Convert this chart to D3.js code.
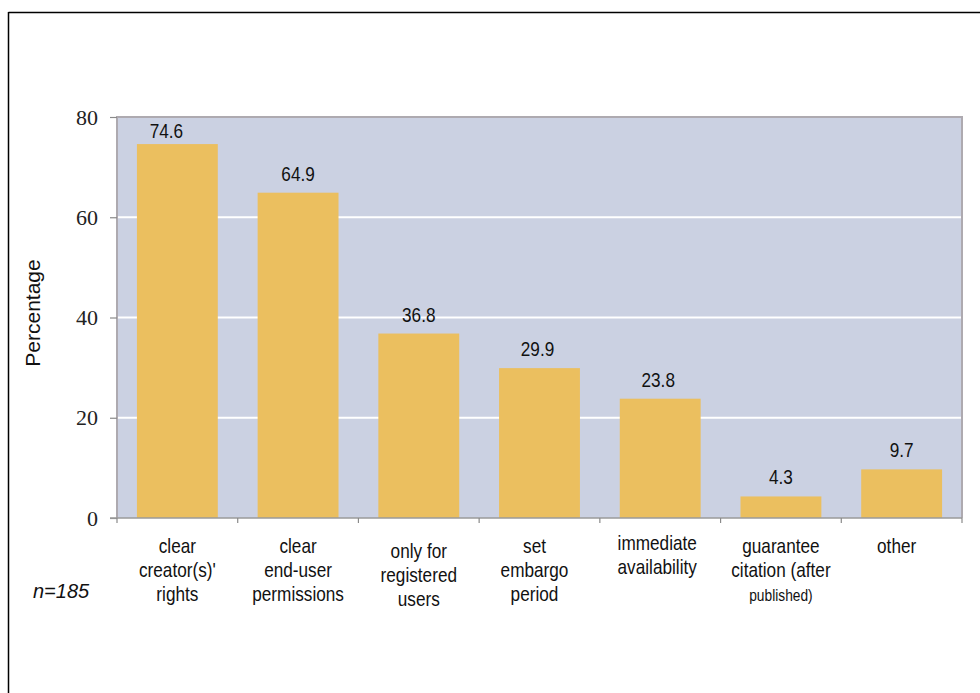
<!DOCTYPE html>
<html>
<head>
<meta charset="utf-8">
<script src="https://cdn.jsdelivr.net/npm/d3@7"></script>
<style>
  html, body { margin: 0; padding: 0; background: #fff; }
  svg { display: block; }
  .sans { font-family: "Liberation Sans", Arial, sans-serif; }
  .serif { font-family: "Liberation Serif", "DejaVu Serif", "Times New Roman", serif; }
</style>
</head>
<body>
<svg id="chart" width="980" height="693"></svg>
<script>
// Categories (each entry is the label split into its text lines)
const categories = [
  ["clear", "creator(s)'", "rights"],
  ["clear", "end-user", "permissions"],
  ["only for", "registered", "users"],
  ["set", "embargo", "period"],
  ["immediate", "availability"],
  ["guarantee", "citation (after", "published)"],
  ["other"]
];
const values = [74.6, 64.9, 36.8, 29.9, 23.8, 4.3, 9.7];
const yTicks = [0, 20, 40, 60, 80];
const yTitle = "Percentage";
const note = "n=185";

const svg = d3.select("#chart");
const W = 980, H = 693;
const plot = { left: 117, right: 962, top: 117, bottom: 518 };
const narrow = 0.86; // horizontal squeeze for the condensed label face

// Outer frame (top and left edges visible)
svg.append("line").attr("x1", 8.5).attr("x2", W).attr("y1", 12.5).attr("y2", 12.5)
  .attr("stroke", "#000").attr("stroke-width", 1.5);
svg.append("line").attr("x1", 8.5).attr("x2", 8.5).attr("y1", 12).attr("y2", H)
  .attr("stroke", "#000").attr("stroke-width", 1.5);

const keys = categories.map((c, i) => i);
const x = d3.scaleBand().domain(keys).range([plot.left, plot.right]).paddingInner(0.33).paddingOuter(0.165);
const xb = d3.scaleBand().domain(keys).range([plot.left, plot.right]).padding(0);
const y = d3.scaleLinear().domain([0, 80]).range([plot.bottom, plot.top]);

// Plot background
svg.append("rect")
  .attr("x", plot.left).attr("y", plot.top)
  .attr("width", plot.right - plot.left).attr("height", plot.bottom - plot.top)
  .attr("fill", "#cbd1e2");

// Horizontal gridlines
svg.append("g").selectAll("line")
  .data(yTicks.filter(t => t > 0 && t < 80))
  .join("line")
  .attr("x1", plot.left).attr("x2", plot.right)
  .attr("y1", d => y(d)).attr("y2", d => y(d))
  .attr("stroke", "#fff").attr("stroke-width", 2);

// Plot border (left, top, right)
svg.append("path")
  .attr("d", `M${plot.left},${plot.bottom}V${plot.top}H${plot.right}V${plot.bottom}`)
  .attr("fill", "none").attr("stroke", "#aeaab0").attr("stroke-width", 2);

// Bars
svg.append("g").selectAll("rect")
  .data(values)
  .join("rect")
  .attr("x", (d, i) => x(i))
  .attr("y", d => y(d))
  .attr("width", x.bandwidth())
  .attr("height", d => y(0) - y(d))
  .attr("fill", "#ebbf5f");

// Value labels
const labelShift = [[-11, 6], [0, 12], [0, 12], [-2, 12], [-2, 12], [0, 12], [0, 12]];
svg.append("g").attr("class", "sans").selectAll("text")
  .data(values)
  .join("text")
  .attr("transform", (d, i) =>
    `translate(${x(i) + x.bandwidth() / 2 + labelShift[i][0]},${y(d) - labelShift[i][1]}) scale(${narrow},1)`)
  .attr("text-anchor", "middle")
  .attr("font-size", 20)
  .attr("fill", "#111")
  .text(d => d.toFixed(1));

// Y axis
const yAxis = d3.axisLeft(y).tickValues(yTicks).tickSize(7).tickPadding(12).tickFormat(d3.format("d"));
const yg = svg.append("g").attr("transform", `translate(${plot.left},0)`).call(yAxis);
yg.attr("font-family", null).attr("font-size", null).attr("class", "serif");
yg.select(".domain").remove();
yg.selectAll(".tick line").attr("stroke", "#8a8a8a").attr("stroke-width", 1.2);
yg.selectAll(".tick text")
  .attr("font-size", 22).attr("fill", "#222");

// X axis line with boundary ticks
const xg = svg.append("g");
xg.append("line").attr("x1", plot.left - 7).attr("x2", plot.right)
  .attr("y1", plot.bottom).attr("y2", plot.bottom)
  .attr("stroke", "#9a9a9a").attr("stroke-width", 1.5);
xg.selectAll("line.bt")
  .data(keys.concat([keys.length]))
  .join("line").attr("class", "bt")
  .attr("x1", d => d < keys.length ? xb(d) : plot.right)
  .attr("x2", d => d < keys.length ? xb(d) : plot.right)
  .attr("y1", plot.bottom).attr("y2", plot.bottom + 5)
  .attr("stroke", "#8a8a8a").attr("stroke-width", 1.2);

// Category labels
const catTop = [553, 553, 558, 553, 550, 553, 553];
const catShift = [0, 0, 0, -5, -3, 0, -5];
const lineH = 24;
const cg = svg.append("g").attr("class", "sans");
categories.forEach((lines, i) => {
  const t = cg.append("text")
    .attr("transform", `translate(${xb(i) + xb.bandwidth() / 2 + catShift[i]},0) scale(${narrow},1)`)
    .attr("text-anchor", "middle")
    .attr("font-size", 20)
    .attr("fill", "#111");
  lines.forEach((ln, j) => {
    const small = (i === 5 && j === 2);
    t.append("tspan")
      .attr("x", 0)
      .attr("y", catTop[i] + j * lineH)
      .attr("font-size", small ? 16 : 20)
      .text(ln);
  });
});

// Y axis title
svg.append("text")
  .attr("class", "sans")
  .attr("transform", `translate(40,313) rotate(-90)`)
  .attr("text-anchor", "middle")
  .attr("font-size", 21)
  .attr("fill", "#111")
  .text(yTitle);

// Sample size note
svg.append("text")
  .attr("class", "sans")
  .attr("x", 33).attr("y", 598)
  .attr("font-size", 20)
  .attr("font-style", "italic")
  .attr("fill", "#111")
  .text(note);
</script>
</body>
</html>
